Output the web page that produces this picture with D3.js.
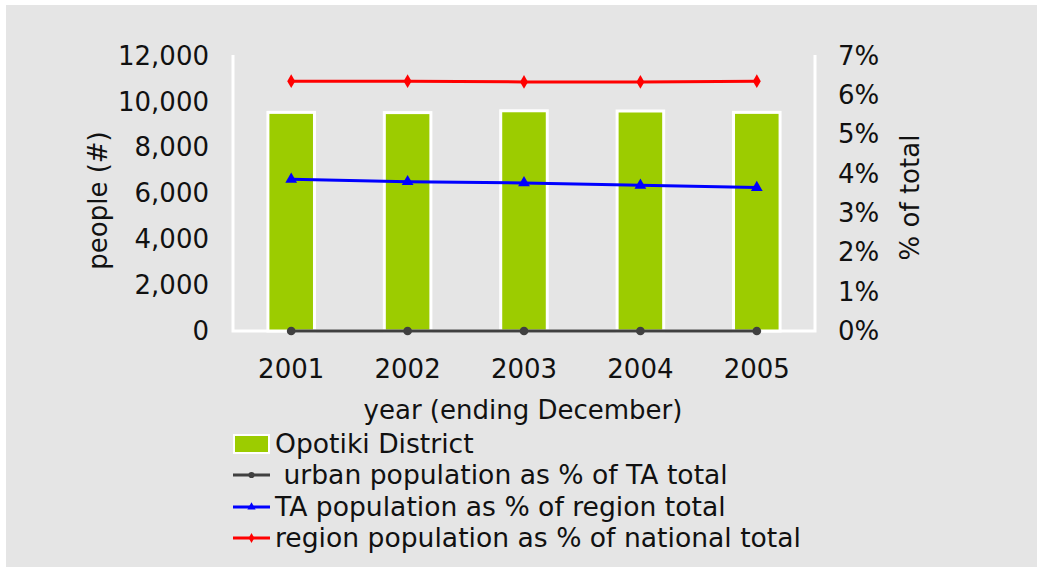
<!DOCTYPE html>
<html>
<head>
<meta charset="utf-8">
<script src="https://cdn.jsdelivr.net/npm/d3@7"></script>
<style>
  body { margin: 0; background: #fff; }
  text { font-family: "DejaVu Sans", Verdana, sans-serif; fill: #111; }
</style>
</head>
<body>
<div id="chart"></div>
<script>
// DATA ------------------------------------------------
const years = ["2001", "2002", "2003", "2004", "2005"];
const opotikiPeople = [9540, 9530, 9610, 9600, 9540];
const urbanPct = [0, 0, 0, 0, 0];
const taOfRegionPct = [3.86, 3.80, 3.77, 3.71, 3.65];
const regionOfNationPct = [6.36, 6.36, 6.34, 6.34, 6.36];
const leftTicks = [0, 2000, 4000, 6000, 8000, 10000, 12000];
const rightTicks = [0, 1, 2, 3, 4, 5, 6, 7];
const legendLabels = ["Opotiki District", " urban population as % of TA total",
                      "TA population as % of region total", "region population as % of national total"];

// LAYOUT ----------------------------------------------
var W = 1037, H = 567;
var plot = {left: 233, right: 815, top: 56, bottom: 331};
var fs = 26;

var svg = d3.select("#chart")
    .append("svg")
        .attr("width", W)
        .attr("height", H);

// grey panel
svg.append("rect")
    .attr("x", 6).attr("y", 5)
    .attr("width", W - 6).attr("height", H - 5)
    .attr("fill", "#e5e5e5");

var x = d3.scaleBand()
    .domain(years)
    .range([plot.left, plot.right])
    .paddingInner(0.6)
    .paddingOuter(0.3);
var yL = d3.scaleLinear().domain([0, 12000]).range([plot.bottom, plot.top]);
var yR = d3.scaleLinear().domain([0, 7]).range([plot.bottom, plot.top]);
var cx = (d) => x(d) + x.bandwidth() / 2;

// axes frame (white lines)
svg.append("path")
    .attr("d", `M${plot.left},${plot.top - 1} V${plot.bottom} H${plot.right} V${plot.top - 1}`)
    .attr("fill", "none")
    .attr("stroke", "#fff")
    .attr("stroke-width", 3);

// bars
svg.selectAll("rect.bar")
    .data(years)
    .enter()
    .append("rect")
        .attr("class", "bar")
        .attr("x", (d) => x(d))
        .attr("y", (d, i) => yL(opotikiPeople[i]))
        .attr("width", x.bandwidth())
        .attr("height", (d, i) => yL(0) - yL(opotikiPeople[i]))
        .attr("fill", "#9ccc00")
        .attr("stroke", "#fff")
        .attr("stroke-width", 3);

// left axis
var axL = svg.append("g")
    .attr("transform", `translate(${plot.left - 24},0)`)
    .call(d3.axisLeft(yL).tickValues(leftTicks).tickSize(0).tickPadding(0).tickFormat(d3.format(",")));
axL.select(".domain").remove();
axL.selectAll("text").attr("font-size", fs).attr("font-family", null);

// right axis
var axR = svg.append("g")
    .attr("transform", `translate(${plot.right + 23},0)`)
    .call(d3.axisRight(yR).tickValues(rightTicks).tickSize(0).tickPadding(0).tickFormat((d) => d + "%"));
axR.select(".domain").remove();
axR.selectAll("text").attr("font-size", fs).attr("font-family", null);

// bottom axis
var axB = svg.append("g")
    .attr("transform", `translate(0,${plot.bottom + 29})`)
    .call(d3.axisBottom(x).tickSize(0).tickPadding(0));
axB.select(".domain").remove();
axB.selectAll("text").attr("font-size", fs).attr("font-family", null);

// axis titles
svg.append("text")
    .attr("transform", `translate(107,${(plot.top + plot.bottom) / 2 + 7}) rotate(-90)`)
    .attr("text-anchor", "middle")
    .attr("font-size", fs)
    .text("people (#)");
svg.append("text")
    .attr("transform", `translate(919,${(plot.top + plot.bottom) / 2 + 4}) rotate(-90)`)
    .attr("text-anchor", "middle")
    .attr("font-size", fs)
    .text("% of total");
svg.append("text")
    .attr("x", (plot.left + plot.right) / 2 - 1)
    .attr("y", 419)
    .attr("text-anchor", "middle")
    .attr("font-size", fs)
    .text("year (ending December)");

// line series
var series = [
    {vals: urbanPct, color: "#404040", marker: d3.symbolCircle, size: 60},
    {vals: taOfRegionPct, color: "#0000ff", marker: d3.symbolTriangle, size: 60},
    {vals: regionOfNationPct, color: "#ff0000", marker: d3.symbolDiamond, size: 55}
];
var line = d3.line().x((d) => cx(d[0])).y((d) => yR(d[1]));

series.forEach((s) => {
    var pts = years.map((yr, i) => [yr, s.vals[i]]);
    svg.append("path")
        .attr("d", line(pts))
        .attr("fill", "none")
        .attr("stroke", s.color)
        .attr("stroke-width", 3);
    svg.selectAll(null)
        .data(pts)
        .enter()
        .append("path")
            .attr("transform", (d) => `translate(${cx(d[0])},${yR(d[1])})`)
            .attr("d", d3.symbol().type(s.marker).size(s.size))
            .attr("fill", s.color);
});

// legend
var lg = svg.append("g").attr("transform", "translate(233,0)");
var rowY = [444, 475, 507, 538];
lg.append("rect")
    .attr("x", 1).attr("y", rowY[0] - 9)
    .attr("width", 35).attr("height", 18)
    .attr("fill", "#9ccc00")
    .attr("stroke", "#fff")
    .attr("stroke-width", 2);
series.forEach((s, i) => {
    var yy = rowY[i + 1];
    lg.append("line")
        .attr("x1", 0).attr("x2", 37)
        .attr("y1", yy).attr("y2", yy)
        .attr("stroke", s.color)
        .attr("stroke-width", 3);
    lg.append("path")
        .attr("transform", `translate(18.5,${yy})`)
        .attr("d", d3.symbol().type(s.marker).size(s.size * 0.5))
        .attr("fill", s.color);
});
lg.selectAll("text.leg")
    .data(legendLabels)
    .enter()
    .append("text")
        .attr("class", "leg")
        .attr("x", 42)
        .attr("y", (d, i) => rowY[i])
        .attr("dy", "0.35em")
        .attr("font-size", 26.6)
        .style("white-space", "pre")
        .text((d) => d);
</script>
</body>
</html>
